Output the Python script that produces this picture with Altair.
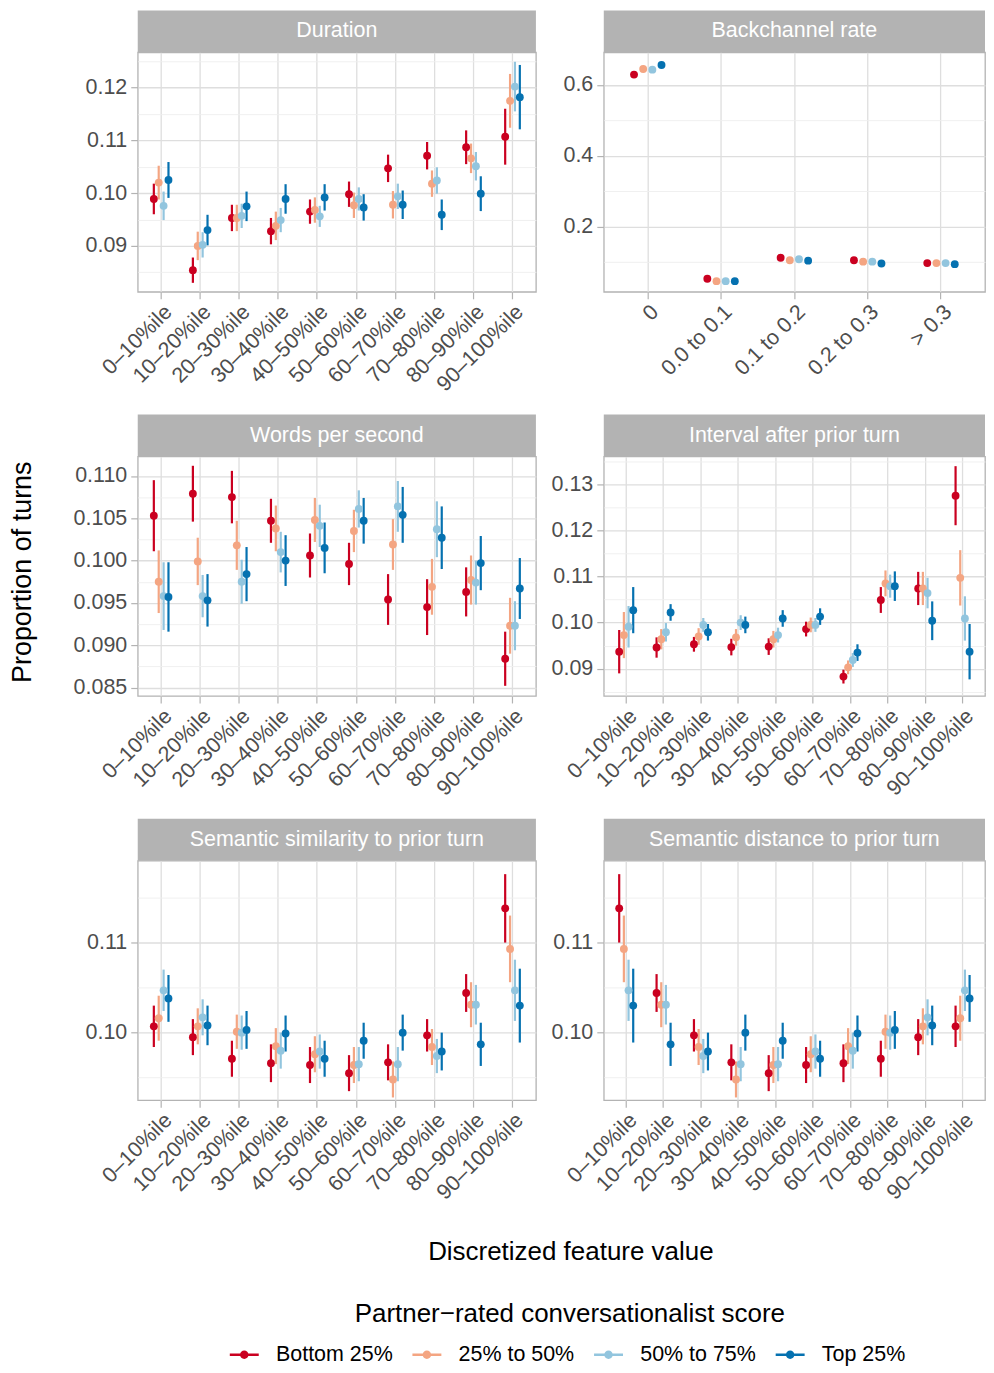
import altair as alt
import pandas as pd

FONT = "Liberation Sans"
GROUPS = ["Bottom 25%", "25% to 50%", "50% to 75%", "Top 25%"]
COLORS = ["#CA0020", "#F4A582", "#92C5DE", "#0571B0"]

PCT_BINS = ["0–10%ile", "10–20%ile", "20–30%ile", "30–40%ile", "40–50%ile",
            "50–60%ile", "60–70%ile", "70–80%ile", "80–90%ile", "90–100%ile"]
BC_BINS = ["0", "0.0 to 0.1", "0.1 to 0.2", "0.2 to 0.3", "> 0.3"]

# ---- Duration (rows: Bottom 25%, 25-50%, 50-75%, Top 25%)
DUR_MEAN = [
    [0.0989, 0.0854, 0.0953, 0.0928, 0.0965, 0.0998, 0.1047, 0.1071, 0.1087, 0.1107],
    [0.1020, 0.0900, 0.0953, 0.0938, 0.0968, 0.0977, 0.0978, 0.1018, 0.1066, 0.1175],
    [0.0976, 0.0902, 0.0957, 0.0949, 0.0956, 0.0989, 0.0994, 0.1024, 0.1051, 0.1202],
    [0.1025, 0.0930, 0.0975, 0.0989, 0.0992, 0.0973, 0.0978, 0.0959, 0.0999, 0.1182],
]
DUR_ERR = [
    [0.0029, 0.0024, 0.0025, 0.0025, 0.0023, 0.0024, 0.0026, 0.0026, 0.0032, 0.0053],
    [0.0032, 0.0027, 0.0025, 0.0027, 0.0024, 0.0024, 0.0026, 0.0025, 0.0028, 0.0051],
    [0.0027, 0.0024, 0.0023, 0.0023, 0.0020, 0.0022, 0.0024, 0.0025, 0.0027, 0.0047],
    [0.0034, 0.0029, 0.0028, 0.0028, 0.0025, 0.0025, 0.0027, 0.0029, 0.0033, 0.0061],
]

# ---- Backchannel rate
BC_MEAN = [
    [0.629, 0.053, 0.112, 0.105, 0.097],
    [0.645, 0.046, 0.105, 0.101, 0.097],
    [0.643, 0.046, 0.108, 0.101, 0.097],
    [0.656, 0.046, 0.104, 0.096, 0.094],
]
BC_ERR = [
    [0.003, 0.002, 0.002, 0.002, 0.002],
    [0.003, 0.002, 0.002, 0.002, 0.002],
    [0.003, 0.002, 0.002, 0.002, 0.002],
    [0.003, 0.002, 0.002, 0.002, 0.002],
]

# ---- Words per second
WPS_MEAN = [
    [0.1053, 0.1079, 0.1075, 0.1047, 0.1006, 0.0996, 0.0954, 0.0945, 0.0963, 0.0884],
    [0.0975, 0.0999, 0.1018, 0.1038, 0.1048, 0.1035, 0.1019, 0.0969, 0.0977, 0.0923],
    [0.0958, 0.0958, 0.0975, 0.1010, 0.1041, 0.1061, 0.1064, 0.1037, 0.0974, 0.0923],
    [0.0957, 0.0953, 0.0984, 0.1000, 0.1015, 0.1047, 0.1054, 0.1027, 0.0997, 0.0967],
]
WPS_ERR = [
    [0.0042, 0.0033, 0.0031, 0.0026, 0.0026, 0.0025, 0.0030, 0.0033, 0.0029, 0.0032],
    [0.0037, 0.0028, 0.0029, 0.0027, 0.0026, 0.0025, 0.0030, 0.0033, 0.0029, 0.0033],
    [0.0040, 0.0025, 0.0026, 0.0024, 0.0025, 0.0022, 0.0030, 0.0033, 0.0026, 0.0029],
    [0.0041, 0.0031, 0.0032, 0.0030, 0.0030, 0.0027, 0.0033, 0.0037, 0.0032, 0.0036],
]

# ---- Interval after prior turn
INT_MEAN = [
    [0.0937, 0.0946, 0.0953, 0.0947, 0.0948, 0.0986, 0.0883, 0.1049, 0.1074, 0.1275],
    [0.0973, 0.0964, 0.0970, 0.0968, 0.0964, 0.0995, 0.0903, 0.1085, 0.1074, 0.1097],
    [0.0991, 0.0979, 0.0995, 0.1000, 0.0973, 0.0995, 0.0919, 0.1079, 0.1064, 0.1009],
    [0.1027, 0.1022, 0.0979, 0.0995, 0.1009, 0.1013, 0.0935, 0.1079, 0.1004, 0.0937],
]
INT_ERR = [
    [0.0047, 0.0022, 0.0016, 0.0018, 0.0018, 0.0016, 0.0015, 0.0028, 0.0036, 0.0064],
    [0.0050, 0.0022, 0.0018, 0.0018, 0.0018, 0.0016, 0.0015, 0.0028, 0.0036, 0.0060],
    [0.0045, 0.0020, 0.0015, 0.0016, 0.0016, 0.0015, 0.0015, 0.0025, 0.0033, 0.0048],
    [0.0050, 0.0018, 0.0018, 0.0018, 0.0018, 0.0018, 0.0018, 0.0032, 0.0042, 0.0060],
]

# ---- Semantic similarity to prior turn
SIM_MEAN = [
    [0.1007, 0.0995, 0.0971, 0.0966, 0.0964, 0.0955, 0.0967, 0.0997, 0.1044, 0.1138],
    [0.1016, 0.1007, 0.1001, 0.0985, 0.0976, 0.0964, 0.0948, 0.0984, 0.1031, 0.1093],
    [0.1047, 0.1017, 0.1000, 0.0980, 0.0979, 0.0965, 0.0965, 0.0974, 0.1031, 0.1047],
    [0.1038, 0.1008, 0.1003, 0.0999, 0.0971, 0.0991, 0.1000, 0.0979, 0.0987, 0.1030],
]
SIM_ERR = [
    [0.0023, 0.0020, 0.0020, 0.0021, 0.0020, 0.0020, 0.0020, 0.0018, 0.0021, 0.0038],
    [0.0025, 0.0020, 0.0019, 0.0020, 0.0020, 0.0020, 0.0020, 0.0020, 0.0025, 0.0037],
    [0.0023, 0.0020, 0.0019, 0.0020, 0.0019, 0.0019, 0.0019, 0.0019, 0.0022, 0.0034],
    [0.0026, 0.0022, 0.0021, 0.0020, 0.0020, 0.0020, 0.0020, 0.0021, 0.0024, 0.0041],
]

# ---- Semantic distance to prior turn
DIS_MEAN = [
    [0.1138, 0.1044, 0.0997, 0.0967, 0.0955, 0.0964, 0.0966, 0.0971, 0.0995, 0.1007],
    [0.1093, 0.1031, 0.0984, 0.0948, 0.0964, 0.0976, 0.0985, 0.1001, 0.1007, 0.1016],
    [0.1047, 0.1031, 0.0974, 0.0965, 0.0965, 0.0979, 0.0980, 0.1000, 0.1017, 0.1047],
    [0.1030, 0.0987, 0.0979, 0.1000, 0.0991, 0.0971, 0.0999, 0.1003, 0.1008, 0.1038],
]
DIS_ERR = [
    [0.0038, 0.0021, 0.0018, 0.0020, 0.0020, 0.0020, 0.0021, 0.0020, 0.0020, 0.0023],
    [0.0037, 0.0025, 0.0020, 0.0020, 0.0020, 0.0020, 0.0020, 0.0019, 0.0020, 0.0025],
    [0.0034, 0.0022, 0.0019, 0.0019, 0.0019, 0.0019, 0.0020, 0.0019, 0.0020, 0.0023],
    [0.0041, 0.0024, 0.0021, 0.0020, 0.0020, 0.0020, 0.0020, 0.0021, 0.0022, 0.0026],
]

PANEL_H = 240
LEFT_W = 399
RIGHT_W = 382
STRIP_H = 42
TXT = 21.5

LEGEND_SYMBOL = ("M-1.45,-0.12L1.45,-0.12L1.45,0.12L-1.45,0.12Z "
                 "M0.42,0A0.42,0.42,0,1,1,-0.42,0A0.42,0.42,0,1,1,0.42,0Z")

LEGEND = alt.Legend(
    orient="none", legendX=96, legendY=1251, direction="horizontal",
    title="Partner−rated conversationalist score",
    titleFont=FONT, titleFontSize=26, titleFontWeight="normal", titleColor="#000000",
    titleAnchor="middle", titlePadding=17, titleLimit=1000,
    labelFont=FONT, labelFontSize=21.5, labelColor="#000000", labelOffset=21,
    labelLimit=400,
    symbolType=LEGEND_SYMBOL, symbolSize=400, symbolStrokeWidth=0,
    symbolOpacity=1, columnPadding=19,
)


def make_df(cats, means, errs):
    rows = []
    for g, m_list, e_list in zip(GROUPS, means, errs):
        for c, m, e in zip(cats, m_list, e_list):
            rows.append({"cat": c, "group": g, "y": m, "lo": m - e, "hi": m + e})
    return pd.DataFrame(rows)


def panel(title, cats, means, errs, domain, major, minor, width, fmt, extra=()):
    df = make_df(cats, means, errs)
    base = alt.Chart(df)
    yscale = alt.Scale(domain=domain, nice=False, zero=False)
    xenc = alt.X(
        "cat:N", sort=cats, title=None,
        scale=alt.Scale(paddingInner=0.5, paddingOuter=0.35),
        axis=alt.Axis(labelAngle=-45, labelAlign="right", labelBaseline="top",
                      labelPadding=2, grid=True, gridColor="#DEDEDE", gridWidth=1.3,
                      bandPosition=0.5, tickSize=7, labelLimit=300),
    )
    xoff = alt.XOffset("group:N", sort=GROUPS, scale=alt.Scale(domain=GROUPS))
    color = alt.Color("group:N", sort=GROUPS,
                      scale=alt.Scale(domain=GROUPS, range=COLORS), legend=LEGEND)

    rules = base.mark_rule(strokeWidth=2.2).encode(
        x=xenc, xOffset=xoff,
        y=alt.Y("lo:Q", scale=yscale, title=None, axis=None),
        y2="hi:Q", color=color,
    )
    pts = base.mark_circle(size=62, opacity=1).encode(
        x=xenc, xOffset=xoff,
        y=alt.Y("y:Q", scale=yscale, title=None,
                axis=alt.Axis(values=major, format=fmt, orient="left", grid=True,
                              gridColor="#DEDEDE", gridWidth=1.3, tickSize=7,
                              labelPadding=4)),
        color=color,
    )
    minor_grid = base.mark_rule(opacity=0).encode(
        y=alt.Y("y:Q", scale=yscale, title=None,
                axis=alt.Axis(values=minor, orient="left", labels=False, ticks=False,
                              domain=False, grid=True, gridColor="#EEEEEE",
                              gridWidth=0.9)),
    )
    tdf = pd.DataFrame({"t": [title]})
    strip_bg = alt.Chart(tdf).mark_rect(color="#B3B3B3").encode(
        x=alt.value(0), x2=alt.value(width), y=alt.value(-STRIP_H), y2=alt.value(0))
    strip_txt = alt.Chart(tdf).mark_text(color="white", fontSize=TXT, font=FONT).encode(
        x=alt.value(width / 2), y=alt.value(-STRIP_H / 2), text="t:N")
    layers = [minor_grid, rules, pts, strip_bg, strip_txt] + list(extra)
    return alt.layer(*layers).resolve_axis(y="independent").properties(
        width=width, height=PANEL_H)


ytitle = alt.Chart(pd.DataFrame({"t": ["Proportion of turns"]})).mark_text(
    angle=270, fontSize=27, font=FONT, color="#000000").encode(
    x=alt.value(-115), y=alt.value(521), text="t:N")
xtitle = alt.Chart(pd.DataFrame({"t": ["Discretized feature value"]})).mark_text(
    fontSize=26, font=FONT, color="#000000").encode(
    x=alt.value(434), y=alt.value(1202), text="t:N")

p1 = panel("Duration", PCT_BINS, DUR_MEAN, DUR_ERR, [0.0813, 0.1267],
           [0.09, 0.10, 0.11, 0.12], [0.085, 0.095, 0.105, 0.115, 0.125],
           LEFT_W, ".2f", extra=(ytitle, xtitle))
p2 = panel("Backchannel rate", BC_BINS, BC_MEAN, BC_ERR, [0.016, 0.692],
           [0.2, 0.4, 0.6], [0.1, 0.3, 0.5], RIGHT_W, ".1f")
p3 = panel("Words per second", PCT_BINS, WPS_MEAN, WPS_ERR, [0.0840, 0.1123],
           [0.085, 0.090, 0.095, 0.100, 0.105, 0.110],
           [0.0875, 0.0925, 0.0975, 0.1025, 0.1075], LEFT_W, ".3f")
p4 = panel("Interval after prior turn", PCT_BINS, INT_MEAN, INT_ERR, [0.0841, 0.1360],
           [0.09, 0.10, 0.11, 0.12, 0.13], [0.085, 0.095, 0.105, 0.115, 0.125, 0.135],
           RIGHT_W, ".2f")
p5 = panel("Semantic similarity to prior turn", PCT_BINS, SIM_MEAN, SIM_ERR,
           [0.0925, 0.1191], [0.10, 0.11], [0.095, 0.105, 0.115], LEFT_W, ".2f")
p6 = panel("Semantic distance to prior turn", PCT_BINS, DIS_MEAN, DIS_ERR,
           [0.0925, 0.1191], [0.10, 0.11], [0.095, 0.105, 0.115], RIGHT_W, ".2f")

chart = alt.concat(
    p1, p2, p3, p4, p5, p6, columns=2,
    spacing={"row": 165, "column": 68}, bounds="flush",
).resolve_scale(color="shared", xOffset="independent").properties(
    padding={"left": 0, "top": 0, "right": 0, "bottom": 0}
).configure_axis(
    labelFont=FONT, labelFontSize=TXT, labelColor="#4D4D4D",
    tickColor="#B3B3B3", tickWidth=1.2, domain=False,
).configure_view(
    stroke="#B3B3B3", strokeWidth=1.3,
)

chart.save("out.html", embed_options={"renderer": "svg", "actions": False})
